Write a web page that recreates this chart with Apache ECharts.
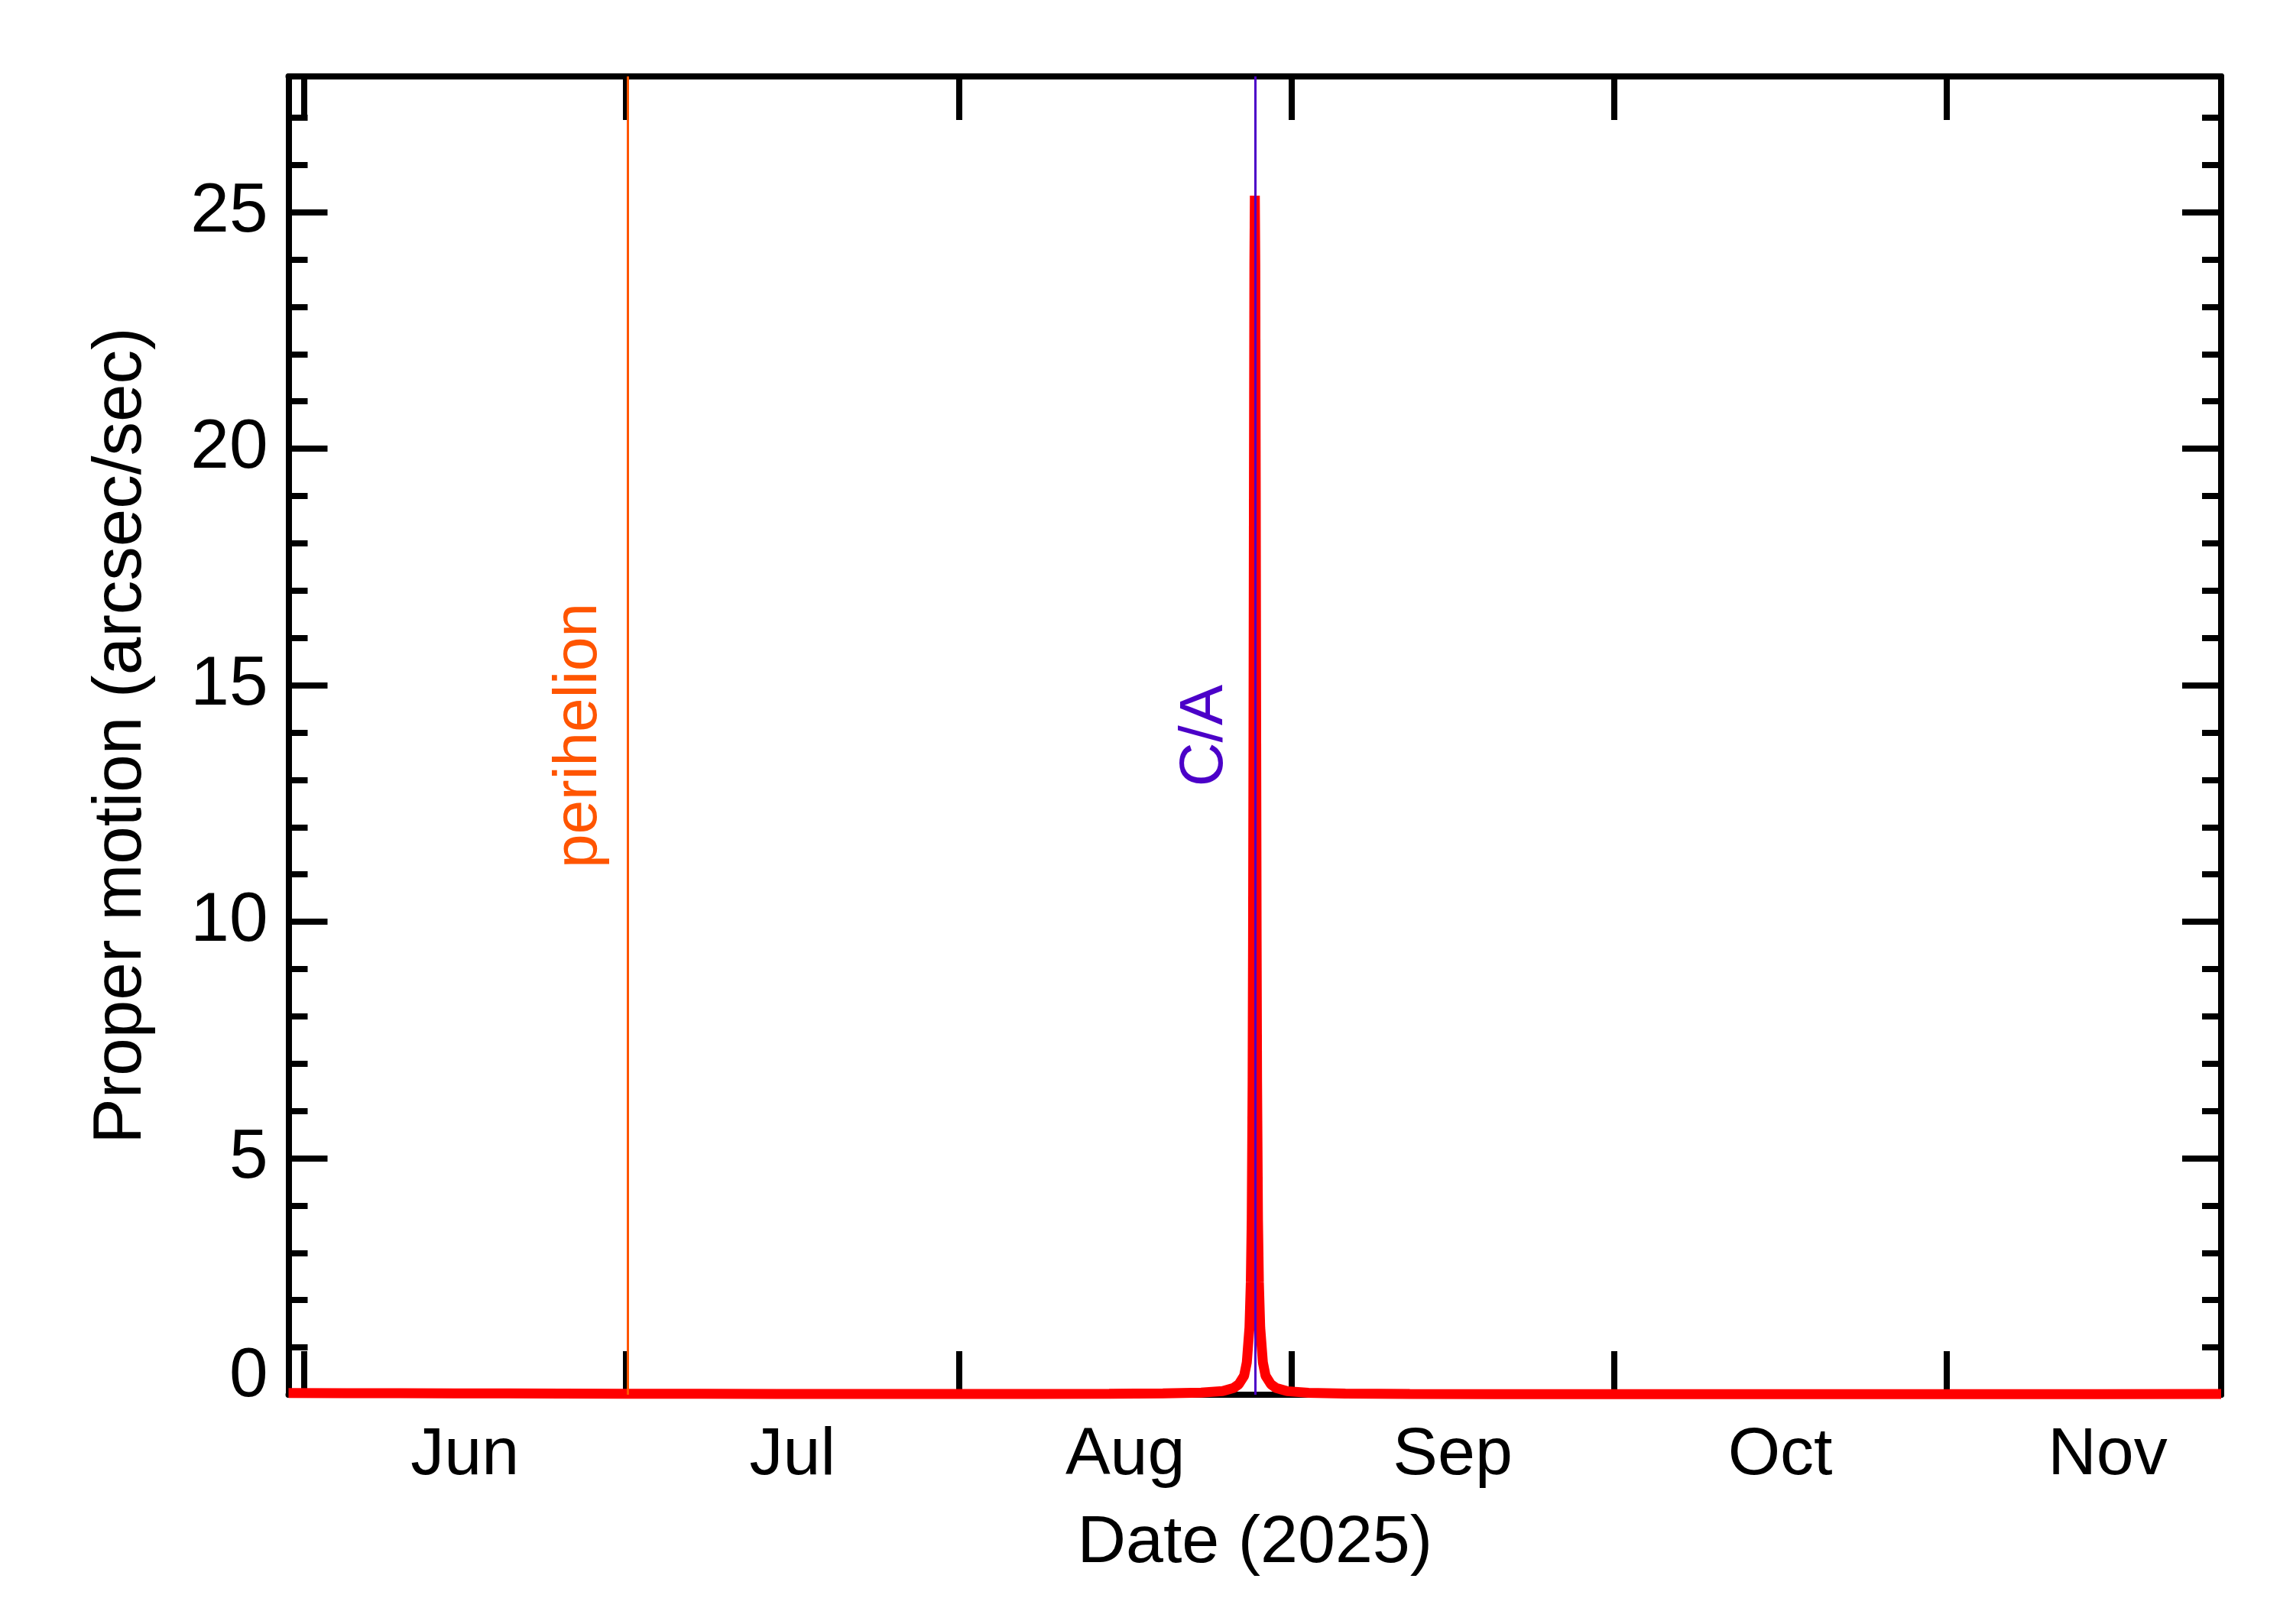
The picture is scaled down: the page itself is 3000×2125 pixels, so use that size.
<!DOCTYPE html>
<html>
<head>
<meta charset="utf-8">
<script src="https://cdn.jsdelivr.net/npm/echarts@6/dist/echarts.min.js"></script>
<style>
html,body{margin:0;padding:0;background:#ffffff;}
#chart{width:3000px;height:2125px;}
</style>
</head>
<body>
<div id="chart"></div>
<script>
// ---- data ----
const dates = [
  '2025-05-30 13:40','2025-06-05 00:00','2025-06-10 00:00','2025-06-15 00:00','2025-06-20 00:00',
  '2025-06-25 00:00','2025-07-01 00:00','2025-07-08 00:00','2025-07-15 00:00','2025-07-22 00:00',
  '2025-08-01 00:00','2025-08-08 00:00','2025-08-15 00:00','2025-08-20 00:00','2025-08-23 13:40',
  '2025-08-25 13:40','2025-08-26 13:40','2025-08-27 01:40','2025-08-27 13:40','2025-08-27 19:40',
  '2025-08-28 01:40','2025-08-28 04:40','2025-08-28 06:40','2025-08-28 08:40','2025-08-28 09:40',
  '2025-08-28 10:40','2025-08-28 11:40','2025-08-28 12:40','2025-08-28 13:40','2025-08-28 14:40',
  '2025-08-28 15:40','2025-08-28 16:40','2025-08-28 17:40','2025-08-28 18:40','2025-08-28 20:40',
  '2025-08-28 22:40','2025-08-29 01:40','2025-08-29 07:40','2025-08-29 13:40','2025-08-30 01:40',
  '2025-08-30 13:40','2025-08-31 13:40','2025-09-02 13:40','2025-09-06 00:00','2025-09-12 00:00',
  '2025-09-20 00:00','2025-10-01 00:00','2025-10-15 00:00','2025-11-01 00:00','2025-11-15 00:00',
  '2025-11-26 13:40'
];
const motion = [
  0.035,0.033,0.031,0.029,0.027,
  0.025,0.022,0.020,0.018,0.016,
  0.015,0.016,0.020,0.030,0.045,
  0.075,0.14,0.22,0.40,0.68,
  1.42,2.38,3.7,6.6,9.6,
  14.0,19.4,23.9,25.35,23.9,
  19.4,14.0,9.6,6.6,3.7,
  2.38,1.42,0.68,0.40,0.22,
  0.14,0.075,0.040,0.025,0.018,
  0.014,0.012,0.012,0.013,0.014,
  0.015
];
const monthStarts = ['2025-06-01 00:00','2025-07-01 00:00','2025-08-01 00:00','2025-09-01 00:00','2025-10-01 00:00','2025-11-01 00:00'];
const monthLabelDates = ['2025-06-16 00:00','2025-07-16 12:00','2025-08-16 12:00','2025-09-16 00:00','2025-10-16 12:00','2025-11-16 00:00'];
const monthNames = ['Jan','Feb','Mar','Apr','May','Jun','Jul','Aug','Sep','Oct','Nov','Dec'];
const majorYTicks = [0,5,10,15,20,25];
const minorYTicks = [0,1,2,3,4,5,6,7,8,9,10,11,12,13,14,15,16,17,18,19,20,21,22,23,24,25,26,27];
const perihelionDate = '2025-07-01 04:00';
const closeApproachDate = '2025-08-28 13:40';
const xStart = '2025-05-30 13:40';
const xEnd = '2025-11-26 13:40';
const yMax = 27.87;

// ---- helpers ----
function toTs(s){ return new Date(s.replace(' ','T')).getTime(); }

const seriesData = dates.map((d,i)=>[toTs(d), motion[i]]);
const tickTs = monthStarts.map(toTs);
const labelTs = monthLabelDates.map(toTs);

const BLACK = '#000000';
const RED = '#FF0000';
const ORANGE = '#FF5500';
const PURPLE = '#4B00C8';
const REG = "'Liberation Sans', Arial, sans-serif";

const chart = echarts.init(document.getElementById('chart'), null, {renderer:'canvas'});

const xMin = toTs(xStart), xMax = toTs(xEnd);

function yAxisDef(position, ticks, len, showLine, showLabel){
  const a = {
    type:'value', min:0, max:yMax, position:position, gridIndex:0,
    axisLine:{show:showLine, onZero:false, lineStyle:{color:BLACK, width:8}},
    axisTick:{show:true, inside:true, length:len, customValues:ticks, lineStyle:{color:BLACK, width:8}},
    axisLabel:{show:false},
    splitLine:{show:false}
  };
  if (showLabel){
    a.axisLabel = {
      show:true, customValues:majorYTicks, margin:27, fontSize:91, fontFamily:REG, color:BLACK,
      formatter:function(v){ return v === 0 ? '{z|0}' : String(v); },
      rich:{ z:{ fontSize:91, fontFamily:REG, color:BLACK, padding:[0,0,46,0] } }
    };
    a.name = 'Proper motion (arcsec/sec)';
    a.nameLocation = 'middle';
    a.nameRotate = 90;
    a.nameGap = 174;
    a.nameTextStyle = {fontSize:89, fontFamily:REG, color:BLACK};
  }
  return a;
}

function xAxisDef(position, showLabel){
  const a = {
    type:'value', min:xMin, max:xMax, position:position, gridIndex:0, scale:true,
    axisLine:{show:true, onZero:false, lineStyle:{color:BLACK, width:8}},
    axisTick:{show:true, inside:true, length:57, customValues:tickTs, lineStyle:{color:BLACK, width:8}},
    axisLabel:{show:false},
    splitLine:{show:false}
  };
  if (showLabel){
    a.axisLabel = {
      show:true, customValues:labelTs, margin:36, fontSize:88, fontFamily:REG, color:BLACK,
      formatter:function(v){ return monthNames[new Date(v).getMonth()]; }
    };
    a.name = 'Date (2025)';
    a.nameLocation = 'middle';
    a.nameGap = 151;
    a.nameTextStyle = {fontSize:88, fontFamily:REG, color:BLACK};
  }
  return a;
}

const option = {
  animation:false,
  backgroundColor:'#ffffff',
  grid:{left:377.5, right:94, top:100, bottom:300, containLabel:false},
  xAxis:[ xAxisDef('bottom', true), xAxisDef('top', false) ],
  yAxis:[
    yAxisDef('left', majorYTicks, 51, true, true),
    yAxisDef('left', minorYTicks, 25, false, false),
    yAxisDef('right', majorYTicks, 51, true, false),
    yAxisDef('right', minorYTicks, 25, false, false)
  ],
  series:[
    {
      name:'proper motion', type:'line', xAxisIndex:0, yAxisIndex:0,
      data:seriesData, showSymbol:false, symbol:'none', z:3,
      lineStyle:{color:RED, width:13, join:'bevel', cap:'butt'}
    },
    {
      name:'events', type:'line', xAxisIndex:0, yAxisIndex:0, data:[], z:5,
      markLine:{
        silent:true, animation:false, symbol:['none','none'],
        data:[
          {
            xAxis:toTs(perihelionDate),
            lineStyle:{color:ORANGE, width:3, type:'solid'},
            label:{show:true, position:'insideMiddleTop', formatter:'perihelion', color:ORANGE, fontSize:80, fontFamily:REG, distance:23}
          },
          {
            xAxis:toTs(closeApproachDate),
            lineStyle:{color:PURPLE, width:3, type:'solid'},
            label:{show:true, position:'insideMiddleTop', formatter:'C/A', color:PURPLE, fontSize:80, fontFamily:REG, distance:25}
          }
        ]
      }
    }
  ]
};
chart.setOption(option);
</script>
</body>
</html>
